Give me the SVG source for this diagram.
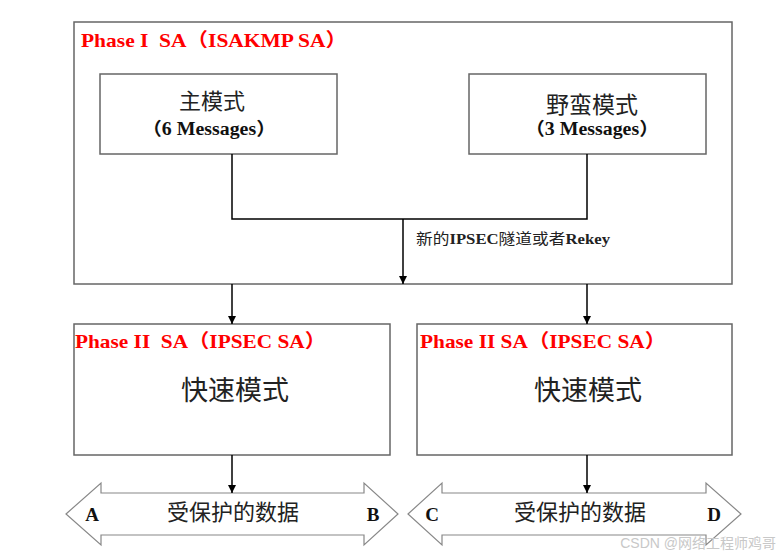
<svg xmlns="http://www.w3.org/2000/svg" width="783" height="556" viewBox="0 0 783 556">
<defs>
<marker id="ah" viewBox="0 0 10 10" refX="10" refY="5" markerWidth="8" markerHeight="8" markerUnits="userSpaceOnUse" orient="auto">
<path d="M0,0 L10,5 L0,10 z" fill="#000"/>
</marker>
<style>
.box{fill:#fff;stroke:#666;stroke-width:1.5}
.frame{fill:none;stroke:#666;stroke-width:1.5}
.red{font-family:"Liberation Serif","Noto Sans CJK SC",serif;font-weight:bold;font-size:19px;fill:#ff0000;white-space:pre}
.cjk{font-family:"Noto Sans CJK SC","Liberation Serif",sans-serif;fill:#222}
.lat{font-family:"Liberation Serif","Noto Sans CJK SC",serif;font-weight:bold;fill:#111}
.conn{fill:none;stroke:#000;stroke-width:1.5}
.barrow{fill:#fff;stroke:#888;stroke-width:1.2}
</style>
</defs>
<rect width="783" height="556" fill="#fff"/>

<g id="phase1">
<rect class="frame" x="74" y="22" width="658" height="262"/>
<text class="red" x="81" y="47" textLength="266" lengthAdjust="spacingAndGlyphs">Phase I&#160; SA（ISAKMP SA）</text>
</g>

<g id="main-mode">
<rect class="box" x="100" y="74" width="237" height="80"/>
<text class="cjk" x="212" y="109" font-size="22" text-anchor="middle">主模式</text>
<text class="lat" x="209" y="135" font-size="18" text-anchor="middle" textLength="134" lengthAdjust="spacingAndGlyphs">（6 Messages）</text>
</g>

<g id="aggressive-mode">
<rect class="box" x="469" y="74" width="237" height="80"/>
<text class="cjk" x="592" y="113" font-size="23" text-anchor="middle">野蛮模式</text>
<text class="lat" x="592" y="135" font-size="18" text-anchor="middle" textLength="134" lengthAdjust="spacingAndGlyphs">（3 Messages）</text>
</g>

<g id="phase2-left">
<rect class="box" x="74" y="324" width="316" height="131"/>
<text class="red" x="75" y="348" textLength="251" lengthAdjust="spacingAndGlyphs">Phase II&#160; SA（IPSEC SA）</text>
<text class="cjk" x="235" y="400" font-size="27" text-anchor="middle">快速模式</text>
</g>

<g id="phase2-right">
<rect class="box" x="417" y="324" width="315" height="131"/>
<text class="red" x="420" y="348" textLength="246" lengthAdjust="spacingAndGlyphs">Phase II SA（IPSEC SA）</text>
<text class="cjk" x="588" y="400" font-size="27" text-anchor="middle">快速模式</text>
</g>

<g id="data-ab">
<polygon class="barrow" points="66,514 101,483 101,493 364,493 364,483 398,514 364,545 364,535 101,535 101,545"/>
<text class="lat" x="92" y="521" font-size="19" text-anchor="middle">A</text>
<text class="cjk" x="233" y="520" font-size="22" text-anchor="middle">受保护的数据</text>
<text class="lat" x="373" y="521" font-size="19" text-anchor="middle">B</text>
</g>

<g id="data-cd">
<polygon class="barrow" points="408,514 442,483 442,493 706,493 706,483 741,514 706,545 706,535 442,535 442,545"/>
<text class="lat" x="432" y="521" font-size="19" text-anchor="middle">C</text>
<text class="cjk" x="580" y="520" font-size="22" text-anchor="middle">受保护的数据</text>
<text class="lat" x="714" y="521" font-size="19" text-anchor="middle">D</text>
</g>

<g id="connectors">
<polyline class="conn" points="232,154 232,219 587,219 587,154"/>
<line class="conn" x1="403" y1="219" x2="403" y2="284" marker-end="url(#ah)"/>
<line class="conn" x1="232" y1="284" x2="232" y2="324" marker-end="url(#ah)"/>
<line class="conn" x1="587" y1="284" x2="587" y2="324" marker-end="url(#ah)"/>
<line class="conn" x1="232" y1="455" x2="232" y2="493" marker-end="url(#ah)"/>
<line class="conn" x1="587" y1="455" x2="587" y2="493" marker-end="url(#ah)"/>
<text x="416" y="244" font-size="15" fill="#222" font-family="Noto Sans CJK SC, sans-serif" textLength="194" lengthAdjust="spacingAndGlyphs">新的<tspan font-family="Liberation Serif, serif" font-weight="bold">IPSEC</tspan>隧道或者<tspan font-family="Liberation Serif, serif" font-weight="bold">Rekey</tspan></text>
</g>

<text x="776" y="548" font-size="14" fill="#c8c8c8" text-anchor="end" font-family="Liberation Sans, Noto Sans CJK SC, sans-serif">CSDN @网络工程师鸡哥</text>
</svg>
